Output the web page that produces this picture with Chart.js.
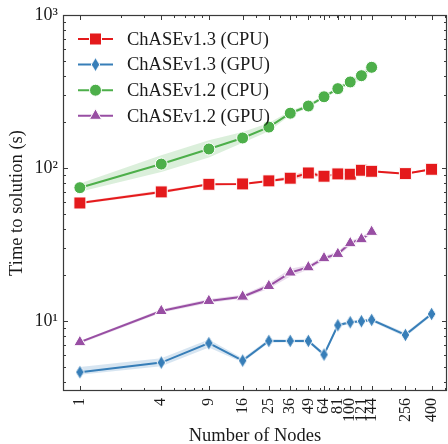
<!DOCTYPE html>
<html>
<head>
<meta charset="utf-8">
<script src="https://cdn.jsdelivr.net/npm/chart.js@4.4.1/dist/chart.umd.min.js"></script>
<style>
  html, body { margin: 0; padding: 0; background: #fff; }
  #wrap { width: 448px; height: 444px; }
</style>
</head>
<body>
<div id="wrap"><canvas id="chart"></canvas></div>
<script>
// node counts (x) and time to solution in seconds (y)
const nodes = [1, 4, 9, 16, 25, 36, 49, 64, 81, 100, 121, 144, 256, 400];
const nodesV12 = [1, 4, 9, 16, 25, 36, 49, 64, 81, 100, 121, 144];

const cpu13 = [59.0, 69.7, 78.2, 78.6, 82.3, 85.7, 92.7, 88.3, 91.4, 91.0, 96.6, 95.1, 91.8, 98.0];
const cpu13Low = [58.0, 68.0, 77.0, 77.5, 81.0, 83.0, 88.0, 86.5, 90.0, 89.8, 95.0, 93.5, 90.5, 96.5];
const cpu13High = [60.0, 71.5, 79.4, 79.7, 83.6, 88.5, 97.0, 90.0, 92.8, 92.3, 98.2, 96.7, 93.0, 99.5];

const gpu13 = [4.62, 5.34, 7.15, 5.5, 7.4, 7.4, 7.4, 6.02, 9.37, 9.8, 9.95, 10.15, 8.1, 11.1];
const gpu13Low = [4.45, 5.05, 6.7, 5.35, 7.2, 7.25, 7.2, 5.85, 9.1, 9.6, 9.7, 9.9, 7.85, 10.8];
const gpu13High = [5.0, 5.7, 7.55, 5.7, 7.6, 7.55, 7.6, 6.2, 9.6, 10.0, 10.2, 10.4, 8.35, 11.4];

const cpu12 = [74.3, 106, 133, 157, 185, 228, 254, 292, 330, 365, 401, 455];
const cpu12Low = [70, 94, 117, 146, 174, 221, 247, 284, 321, 352, 375, 440];
const cpu12High = [79, 121, 152, 172, 197, 236, 262, 300, 339, 378, 425, 470];

const gpu12 = [7.26, 11.6, 13.5, 14.4, 16.9, 20.7, 22.4, 25.7, 27.4, 32.2, 34.2, 38.2];
const gpu12Low = [7.1, 11.3, 13.1, 14.0, 16.2, 19.5, 21.6, 24.8, 26.4, 31.0, 33.0, 37.0];
const gpu12High = [7.4, 11.9, 13.9, 14.8, 17.6, 21.9, 23.2, 26.6, 28.4, 33.4, 35.4, 39.4];

// tick positions
const yMajor = [10, 100, 1000];
const yMinor = [4, 5, 6, 7, 8, 9, 20, 30, 40, 50, 60, 70, 80, 90, 200, 300, 400, 500, 600, 700, 800, 900];
const xMinor = [2, 3, 5, 6, 7, 8, 20, 30, 40, 50, 60, 70, 80, 90, 200, 300, 500];

const RED = '#e41a1c', BLUE = '#377eb8', GREEN = '#4daf4a', PURPLE = '#984ea3';
const FONT = "'Liberation Serif', 'DejaVu Serif', serif";

function pts(xs, ys) {
    return xs.map((x, i) => ({ x: x, y: ys[i] }));
}

function alpha(hex, a) {
    const n = parseInt(hex.slice(1), 16);
    return `rgba(${n >> 16}, ${(n >> 8) & 255}, ${n & 255}, ${a})`;
}

// thin diamond marker like matplotlib 'd'
function thinDiamond(color) {
    const c = document.createElement('canvas');
    c.width = 11; c.height = 16;
    const g = c.getContext('2d');
    g.beginPath();
    g.moveTo(5.5, 1); g.lineTo(9.8, 8); g.lineTo(5.5, 15); g.lineTo(1.2, 8);
    g.closePath();
    g.fillStyle = color; g.fill();
    g.strokeStyle = '#fff'; g.lineWidth = 1; g.stroke();
    return c;
}
const diamondImg = thinDiamond(BLUE);

function band(xs, lo, hi, color) {
    return [
        { data: pts(xs, lo), borderWidth: 0, pointRadius: 0, fill: false, order: 10, isBand: true },
        { data: pts(xs, hi), borderWidth: 0, pointRadius: 0, fill: '-1', backgroundColor: alpha(color, 0.2), order: 10, isBand: true }
    ];
}

function series(label, xs, ys, color, style, radius, order) {
    return {
        label: label,
        data: pts(xs, ys),
        borderColor: color,
        backgroundColor: color,
        borderWidth: 2,
        pointStyle: style,
        pointRadius: radius,
        pointBorderColor: '#fff',
        pointBorderWidth: 1,
        fill: false,
        order: order
    };
}

const datasets = [
    ...band(nodes, cpu13Low, cpu13High, RED),
    ...band(nodes, gpu13Low, gpu13High, BLUE),
    ...band(nodesV12, cpu12Low, cpu12High, GREEN),
    ...band(nodesV12, gpu12Low, gpu12High, PURPLE),
    series('ChASEv1.3 (CPU)', nodes, cpu13, RED, 'rect', 8.5, 3),
    series('ChASEv1.3 (GPU)', nodes, gpu13, BLUE, diamondImg, 7, 4),
    series('ChASEv1.2 (CPU)', nodesV12, cpu12, GREEN, 'circle', 6, 1),
    series('ChASEv1.2 (GPU)', nodesV12, gpu12, PURPLE, 'triangle', 7, 2)
];

// inward ticks on all four sides plus the frame
const frameTicks = {
    id: 'frameTicks',
    afterDraw(chart) {
        const { ctx, chartArea: a, scales: { x, y } } = chart;
        ctx.save();
        ctx.strokeStyle = '#3a3a3a';
        ctx.lineWidth = 1;
        const seg = (x1, y1, x2, y2) => {
            ctx.beginPath(); ctx.moveTo(x1, y1); ctx.lineTo(x2, y2); ctx.stroke();
        };
        const xt = (v, len) => {
            const px = Math.round(x.getPixelForValue(v)) + 0.5;
            if (px < a.left || px > a.right) return;
            seg(px, a.bottom, px, a.bottom - len);
            seg(px, a.top, px, a.top + len);
        };
        const yt = (v, len) => {
            const py = Math.round(y.getPixelForValue(v)) + 0.5;
            if (py < a.top - 1 || py > a.bottom) return;
            seg(a.left, py, a.left + len, py);
            seg(a.right, py, a.right - len, py);
        };
        nodes.forEach(v => xt(v, 5));
        xMinor.forEach(v => xt(v, 3));
        yMajor.forEach(v => yt(v, 5));
        yMinor.forEach(v => yt(v, 3));
        ctx.lineWidth = 1.2;
        ctx.strokeRect(a.left + 0.5, a.top + 0.5, a.width - 1, a.height - 1);
        ctx.restore();
    }
};

// matplotlib style legend: line + marker, text to the right
const lineLegend = {
    id: 'lineLegend',
    afterDraw(chart) {
        const { ctx, chartArea: a } = chart;
        ctx.save();
        ctx.font = '18.5px ' + FONT;
        ctx.textBaseline = 'middle';
        const items = chart.data.datasets.filter(d => !d.isBand);
        items.forEach((d, i) => {
            const cy = a.top + 24 + i * 25.6;
            const x0 = a.left + 15, x1 = a.left + 50, cx = (x0 + x1) / 2;
            ctx.strokeStyle = d.borderColor;
            ctx.lineWidth = 2;
            ctx.beginPath(); ctx.moveTo(x0, cy); ctx.lineTo(x1, cy); ctx.stroke();
            ctx.fillStyle = d.backgroundColor;
            ctx.strokeStyle = '#fff';
            ctx.lineWidth = 1;
            const r = d.pointRadius;
            ctx.beginPath();
            if (d.pointStyle === 'rect') {
                const s = r * Math.SQRT1_2;
                ctx.rect(cx - s, cy - s, 2 * s, 2 * s);
            } else if (d.pointStyle === 'circle') {
                ctx.arc(cx, cy, r, 0, Math.PI * 2);
            } else if (d.pointStyle === 'triangle') {
                ctx.moveTo(cx, cy - r);
                ctx.lineTo(cx + r * 0.866, cy + r / 2);
                ctx.lineTo(cx - r * 0.866, cy + r / 2);
                ctx.closePath();
            }
            if (typeof d.pointStyle === 'string') {
                ctx.fill(); ctx.stroke();
            } else {
                ctx.drawImage(d.pointStyle, cx - d.pointStyle.width / 2, cy - d.pointStyle.height / 2);
            }
            ctx.fillStyle = '#1a1a1a';
            ctx.fillText(d.label, a.left + 64, cy + 1);
        });
        ctx.restore();
    }
};

new Chart(document.getElementById('chart'), {
    type: 'line',
    data: { datasets: datasets },
    options: {
        responsive: true,
        maintainAspectRatio: false,
        animation: false,
        layout: { autoPadding: false, padding: { top: 15, right: 1, left: 0, bottom: 0 } },
        plugins: {
            legend: { display: false },
            tooltip: { enabled: false },
            filler: { propagate: false }
        },
        scales: {
            x: {
                type: 'logarithmic',
                min: 0.75,
                max: 520,
                grid: { display: false, drawTicks: false },
                border: { display: false },
                afterBuildTicks: scale => {
                    scale.ticks = nodes.map(v => ({ value: v }));
                },
                afterFit: scale => {
                    scale.height = 53;
                    scale.paddingLeft = 0;
                    scale.paddingRight = 0;
                },
                ticks: {
                    autoSkip: false,
                    minRotation: 90,
                    maxRotation: 90,
                    padding: 7,
                    color: '#1a1a1a',
                    font: { family: FONT, size: 16 },
                    callback: v => String(v)
                },
                title: {
                    display: true,
                    text: 'Number of Nodes',
                    color: '#1a1a1a',
                    font: { family: FONT, size: 18.5, lineHeight: 1.0 },
                    padding: { top: 0, bottom: -1 }
                }
            },
            y: {
                type: 'logarithmic',
                min: 3.48,
                max: 1000,
                grid: { display: false, drawTicks: false },
                border: { display: false },
                afterBuildTicks: scale => {
                    scale.ticks = yMajor.map(v => ({ value: v }));
                },
                afterFit: scale => {
                    scale.width = 63;
                    scale.paddingTop = 0;
                    scale.paddingBottom = 0;
                },
                ticks: {
                    padding: 5,
                    color: '#1a1a1a',
                    font: { family: FONT, size: 18 },
                    callback: v => ({ 10: '10¹', 100: '10²', 1000: '10³' })[v] || ''
                },
                title: {
                    display: true,
                    text: 'Time to solution (s)',
                    color: '#1a1a1a',
                    font: { family: FONT, size: 18.5, lineHeight: 1.2 },
                    padding: { top: 6, bottom: 0 }
                }
            }
        }
    },
    plugins: [frameTicks, lineLegend]
});
</script>
</body>
</html>
